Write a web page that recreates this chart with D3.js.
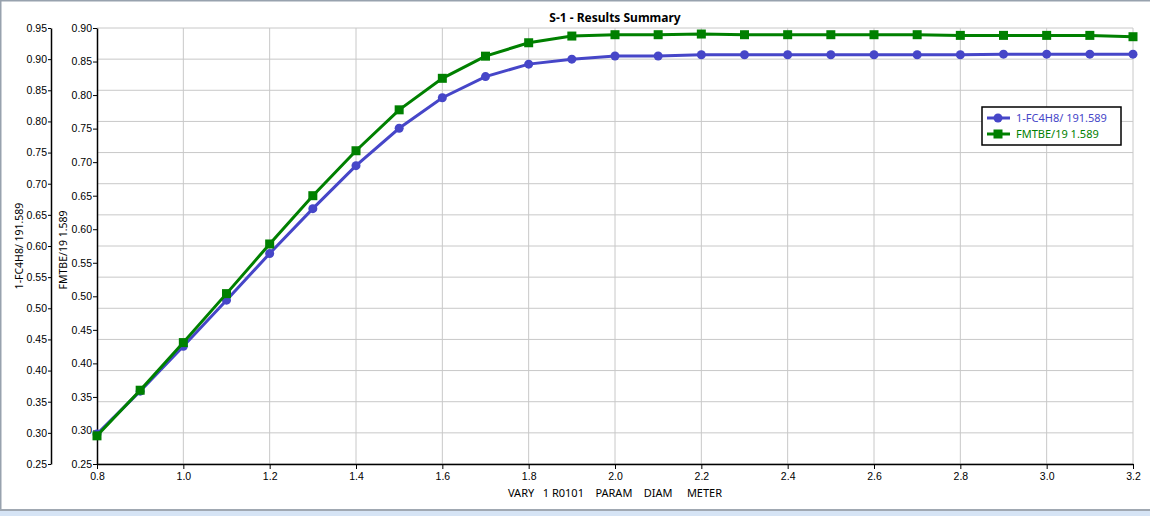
<!DOCTYPE html>
<html>
<head>
<meta charset="utf-8">
<script src="https://cdn.jsdelivr.net/npm/d3@7"></script>
<style>
  body { margin: 0; background: #fff; }
  svg { display: block; font-family: "Noto Sans", "DejaVu Sans", sans-serif; }
  .axis path, .axis line { stroke: #000; }
  .axis text { font-size: 10.5px; fill: #000; }
</style>
</head>
<body>
<div class="d3"></div>
<script>
// x: VARY 1 R0101 PARAM DIAM METER
var diam = [0.8, 0.9, 1.0, 1.1, 1.2, 1.3, 1.4, 1.5, 1.6, 1.7, 1.8, 1.9, 2.0,
            2.1, 2.2, 2.3, 2.4, 2.5, 2.6, 2.7, 2.8, 2.9, 3.0, 3.1, 3.2];
var fc4h8 = [0.298, 0.367, 0.439, 0.513, 0.588, 0.660, 0.729, 0.789, 0.838, 0.872, 0.892, 0.900, 0.905,
             0.905, 0.907, 0.907, 0.907, 0.907, 0.907, 0.907, 0.907, 0.908, 0.908, 0.908, 0.908];
var fmtbe = [0.292, 0.360, 0.431, 0.504, 0.578, 0.650, 0.717, 0.778, 0.825, 0.858, 0.878, 0.888, 0.890,
             0.890, 0.891, 0.890, 0.890, 0.890, 0.890, 0.890, 0.889, 0.889, 0.889, 0.889, 0.887];
var xTicks = [0.8, 1.0, 1.2, 1.4, 1.6, 1.8, 2.0, 2.2, 2.4, 2.6, 2.8, 3.0, 3.2];
var outerTicks = [0.25, 0.30, 0.35, 0.40, 0.45, 0.50, 0.55, 0.60, 0.65, 0.70, 0.75, 0.80, 0.85, 0.90, 0.95];
var innerTicks = [0.25, 0.30, 0.35, 0.40, 0.45, 0.50, 0.55, 0.60, 0.65, 0.70, 0.75, 0.80, 0.85, 0.90];

var width = 1150, height = 516;
var plotLeft = 97, plotRight = 1133, plotTop = 28, plotBottom = 464;

var svg = d3.select(".d3").append("svg")
    .attr("width", width)
    .attr("height", height);

// window frame
svg.append("rect").attr("x", 0).attr("y", 0).attr("width", width).attr("height", 1.5).attr("fill", "#98a2ae");
svg.append("rect").attr("x", 0).attr("y", 0).attr("width", 1.5).attr("height", 510).attr("fill", "#98a2ae");
svg.append("rect").attr("x", 0).attr("y", 509).attr("width", width).attr("height", 2).attr("fill", "#a0a8b2");
svg.append("rect").attr("x", 0).attr("y", 511).attr("width", width).attr("height", 5).attr("fill", "#d6e4f5");

var x = d3.scaleLinear().domain([0.8, 3.2]).range([plotLeft, plotRight]);
var yOuter = d3.scaleLinear().domain([0.25, 0.95]).range([plotBottom, plotTop]);
var yInner = d3.scaleLinear().domain([0.25, 0.90]).range([plotBottom, plotTop]);

// grid
svg.append("g").selectAll("line")
    .data(outerTicks)
  .enter().append("line")
    .attr("x1", plotLeft).attr("x2", plotRight)
    .attr("y1", function(d) { return yOuter(d); })
    .attr("y2", function(d) { return yOuter(d); })
    .attr("stroke", "#c8c8c8");
svg.append("g").selectAll("line")
    .data(xTicks.slice(1))
  .enter().append("line")
    .attr("y1", plotTop).attr("y2", plotBottom)
    .attr("x1", function(d) { return x(d); })
    .attr("x2", function(d) { return x(d); })
    .attr("stroke", "#c8c8c8");

// axes
svg.append("g")
    .attr("class", "axis")
    .attr("transform", "translate(0," + plotBottom + ")")
    .call(d3.axisBottom(x).tickValues(xTicks).tickFormat(d3.format(".1f")).tickSize(5).tickSizeOuter(0).tickPadding(4))
    .select(".domain").attr("stroke-width", 1.5);

svg.append("g")
    .attr("class", "axis")
    .attr("transform", "translate(51,0)")
    .call(d3.axisLeft(yOuter).tickValues(outerTicks).tickFormat(d3.format(".2f")).tickSize(3).tickSizeOuter(0).tickPadding(1))
    .select(".domain").attr("stroke-width", 1.5);

svg.append("g")
    .attr("class", "axis")
    .attr("transform", "translate(" + plotLeft + ",0)")
    .call(d3.axisLeft(yInner).tickValues(innerTicks).tickFormat(d3.format(".2f")).tickSize(4).tickSizeOuter(0).tickPadding(1))
    .select(".domain").attr("stroke-width", 1.5);

// titles
svg.append("text")
    .attr("x", (plotLeft + plotRight) / 2).attr("y", 22)
    .attr("text-anchor", "middle")
    .style("font-size", "12px").style("font-weight", "bold")
    .text("S-1 - Results Summary");

svg.append("text")
    .attr("x", (plotLeft + plotRight) / 2).attr("y", 497)
    .attr("text-anchor", "middle")
    .style("font-size", "11px")
    .attr("xml:space", "preserve")
    .text("VARY   1 R0101    PARAM    DIAM     METER");

svg.append("text")
    .attr("transform", "translate(23," + ((plotTop + plotBottom) / 2) + ") rotate(-90)")
    .attr("text-anchor", "middle")
    .style("font-size", "10.5px")
    .text("1-FC4H8/ 191.589");

svg.append("text")
    .attr("transform", "translate(67," + ((plotTop + plotBottom) / 2 + 4) + ") rotate(-90)")
    .attr("text-anchor", "middle")
    .style("font-size", "10.5px")
    .text("FMTBE/19 1.589");

// series
var blue = "#4646c8", green = "#008000";

var lineOuter = d3.line()
    .x(function(d, i) { return x(diam[i]); })
    .y(function(d) { return yOuter(d); });
var lineInner = d3.line()
    .x(function(d, i) { return x(diam[i]); })
    .y(function(d) { return yInner(d); });

svg.append("path")
    .datum(fc4h8)
    .attr("fill", "none")
    .attr("stroke", blue)
    .attr("stroke-width", 3)
    .attr("d", lineOuter);

svg.append("g").selectAll("circle")
    .data(fc4h8)
  .enter().append("circle")
    .attr("cx", function(d, i) { return x(diam[i]); })
    .attr("cy", function(d) { return yOuter(d); })
    .attr("r", 4.5)
    .attr("fill", blue);

svg.append("path")
    .datum(fmtbe)
    .attr("fill", "none")
    .attr("stroke", green)
    .attr("stroke-width", 3)
    .attr("d", lineInner);

svg.append("g").selectAll("rect")
    .data(fmtbe)
  .enter().append("rect")
    .attr("x", function(d, i) { return x(diam[i]) - 4.5; })
    .attr("y", function(d) { return yInner(d) - 4.5; })
    .attr("width", 9)
    .attr("height", 9)
    .attr("fill", green);

// legend
var legend = svg.append("g").attr("transform", "translate(982,107)");
legend.append("rect")
    .attr("width", 139).attr("height", 38)
    .attr("fill", "#fff").attr("stroke", "#000").attr("stroke-width", 1.5);

var items = [
  {name: "1-FC4H8/ 191.589", color: blue, shape: "circle"},
  {name: "FMTBE/19 1.589", color: green, shape: "square"}
];
var item = legend.selectAll(".item")
    .data(items)
  .enter().append("g")
    .attr("class", "item")
    .attr("transform", function(d, i) { return "translate(0," + (11 + i * 16) + ")"; });
item.append("line")
    .attr("x1", 5).attr("x2", 28)
    .attr("stroke", function(d) { return d.color; })
    .attr("stroke-width", 3);
item.each(function(d) {
  var g = d3.select(this);
  if (d.shape === "circle") {
    g.append("circle").attr("cx", 16).attr("cy", 0).attr("r", 4.5).attr("fill", d.color);
  } else {
    g.append("rect").attr("x", 11.5).attr("y", -4.5).attr("width", 9).attr("height", 9).attr("fill", d.color);
  }
});
item.append("text")
    .attr("x", 34).attr("y", 4)
    .style("font-size", "11px")
    .attr("fill", function(d) { return d.color; })
    .text(function(d) { return d.name; });
</script>
</body>
</html>
